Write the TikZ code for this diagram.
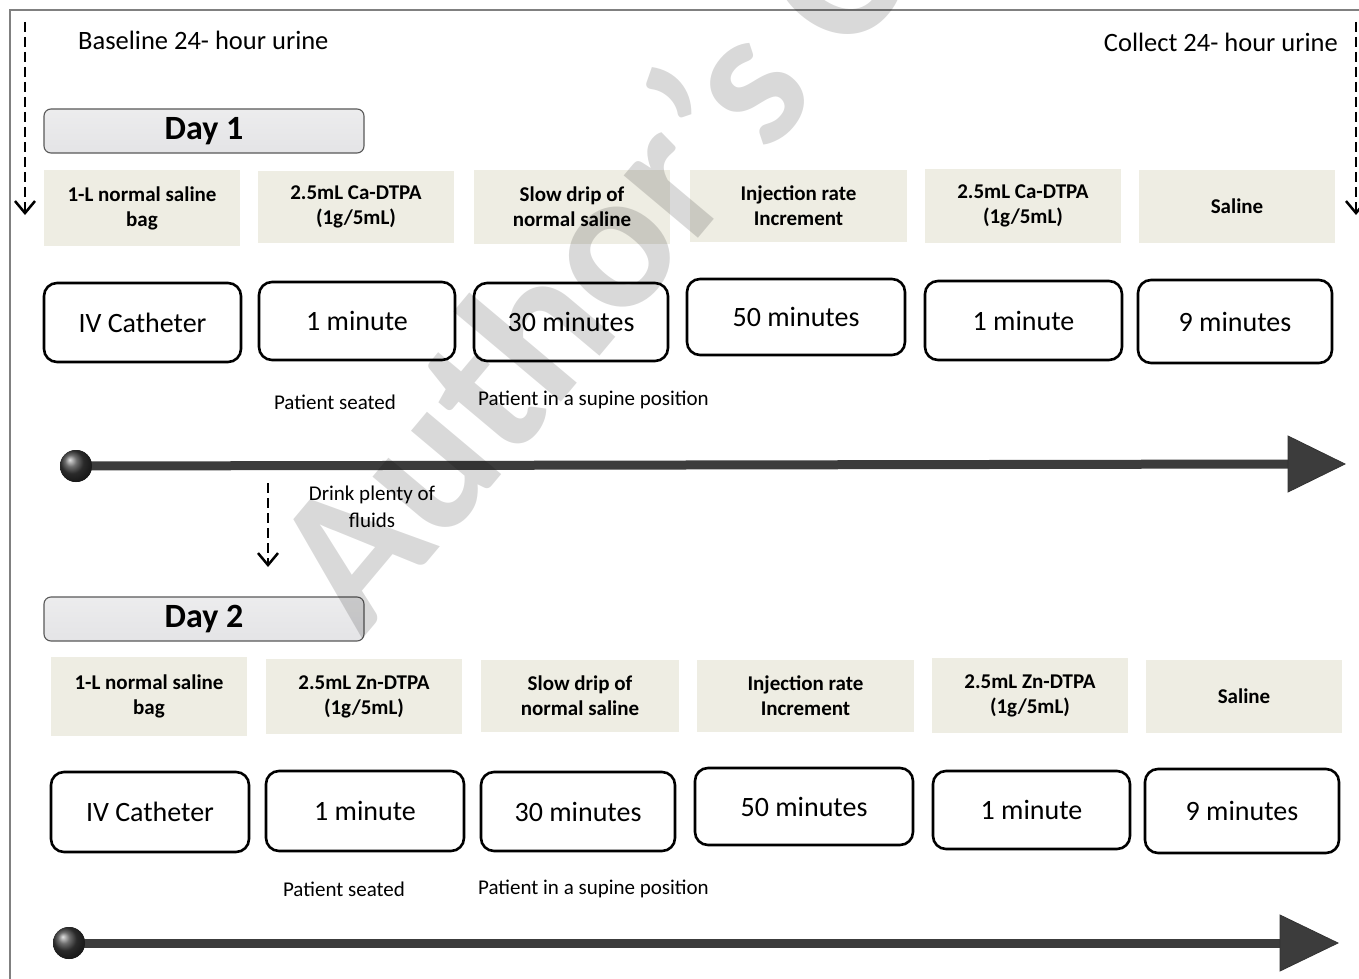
\documentclass[tikz,border=0pt]{standalone}
\usepackage{fontspec}
\setmainfont{Carlito}
\usetikzlibrary{arrows.meta,shadings}
\definecolor{beige}{HTML}{EEEDE3}
\definecolor{daygray}{HTML}{E4E4E6}
\definecolor{tl}{HTML}{3C3C3C}
\begin{document}
\begin{tikzpicture}[x=1pt,y=-1pt,
  beigebox/.style={rectangle,fill=beige,inner sep=0pt,align=center,
    font=\fontsize{21}{25}\selectfont\bfseries},
  timebox/.style={rectangle,rounded corners=13pt,draw=black,line width=2.6pt,
    fill=white,inner sep=0pt,font=\fontsize{28}{32}\selectfont},
  daybox/.style={rectangle,rounded corners=7pt,draw=black!65,line width=1.1pt,
    top color=daygray!70!white,bottom color=daygray,inner sep=0pt,
    minimum width=320pt,minimum height=44pt,
    font=\fontsize{34}{38}\selectfont\bfseries},
  plain/.style={inner sep=0pt,font=\fontsize{21}{27}\selectfont,align=center},
  toptext/.style={inner sep=0pt,font=\fontsize{26.5}{30}\selectfont},
  ballnode/.style={circle,shading=ball,ball color=tl,minimum size=32pt,inner sep=0pt},
  tline/.style={line width=9pt,draw=tl},
  tiptri/.style={fill=tl,draw=black!80,line width=0.8pt},
  dasharrow/.style={line width=2.5pt,dash pattern=on 10pt off 5pt,
    -{Straight Barb[length=12pt,width=20pt,line width=2.5pt]}}
]
\useasboundingbox (0,0) rectangle (1359,979);
\fill[white] (0,0) rectangle (1359,979);
% frame
\draw[black!50,line width=1.5pt] (1359,10) -- (10,10) -- (10,979);

% top texts
\node[toptext,anchor=west] (base) at (78,40) {Baseline 24- hour urine};
\node[toptext,anchor=east] (coll) at (1338,42) {Collect 24- hour urine};
\coordinate (ls) at (25,22);
\coordinate (le) at (25,215);
\coordinate (rs) at (1356,22);
\coordinate (re) at (1356,215);
\draw[dasharrow] (ls) -- (le);
\draw[dasharrow] (rs) -- (re);

% Day 1
\node[daybox] (day1) at (204,131) {\raisebox{3pt}{Day 1}};
\node[beigebox,minimum width=196pt,minimum height=76pt] (a1) at (142,208) {1-L normal saline\\bag};
\node[beigebox,minimum width=196pt,minimum height=72pt] (a2) at (356,207) {2.5mL Ca-DTPA\\(1g/5mL)};
\node[beigebox,minimum width=196pt,minimum height=74pt] (a3) at (572,207) {Slow drip of\\normal saline};
\node[beigebox,minimum width=217pt,minimum height=72pt] (a4) at (798.5,206) {Injection rate\\Increment};
\node[beigebox,minimum width=196pt,minimum height=74pt] (a5) at (1023,206) {2.5mL Ca-DTPA\\(1g/5mL)};
\node[beigebox,minimum width=196pt,minimum height=73pt] (a6) at (1237,206.5) {Saline};

\node[timebox,minimum width=197pt,minimum height=79pt] (b1) at (142.5,322.5) {IV Catheter};
\node[timebox,minimum width=196pt,minimum height=78pt] (b2) at (357,321) {1 minute};
\node[timebox,minimum width=194pt,minimum height=78pt] (b3) at (571,322) {30 minutes};
\node[timebox,minimum width=218pt,minimum height=76pt] (b4) at (796,317) {50 minutes};
\node[timebox,minimum width=197pt,minimum height=79pt] (b5) at (1023.5,320.5) {1 minute};
\node[timebox,minimum width=194pt,minimum height=83pt] (b6) at (1235,321.5) {9 minutes};

\node[plain] (ps1) at (335,402) {Patient seated};
\node[plain] (pp1) at (593.5,400) {Patient in a supine position};

% timeline 1
\node[ballnode] (ball1) at (76,466) {};
\coordinate (t1e) at (1290,464);
\draw[tline] (ball1.center) -- (t1e);
\node[ballnode] at (76,466) {};
\filldraw[tiptri] (1288,436) -- (1345,464) -- (1288,492) -- cycle;

% between days
\coordinate (ms) at (268,483);
\coordinate (me) at (268,567);
\draw[dasharrow] (ms) -- (me);
\node[plain] (drink) at (372,507) {Drink plenty of\\fluids};

% Day 2
\node[daybox] (day2) at (204,619) {\raisebox{3pt}{Day 2}};
\node[beigebox,minimum width=196pt,minimum height=79pt] (c1) at (149,696.5) {1-L normal saline\\bag};
\node[beigebox,minimum width=196pt,minimum height=75pt] (c2) at (364,696.5) {2.5mL Zn-DTPA\\(1g/5mL)};
\node[beigebox,minimum width=198pt,minimum height=72pt] (c3) at (580,696) {Slow drip of\\normal saline};
\node[beigebox,minimum width=217pt,minimum height=72pt] (c4) at (805.5,696) {Injection rate\\Increment};
\node[beigebox,minimum width=196pt,minimum height=75pt] (c5) at (1030,695.5) {2.5mL Zn-DTPA\\(1g/5mL)};
\node[beigebox,minimum width=196pt,minimum height=73pt] (c6) at (1244,696.5) {Saline};

\node[timebox,minimum width=198pt,minimum height=80pt] (d1) at (150,812) {IV Catheter};
\node[timebox,minimum width=198pt,minimum height=80pt] (d2) at (365,811) {1 minute};
\node[timebox,minimum width=194pt,minimum height=79pt] (d3) at (578,811.5) {30 minutes};
\node[timebox,minimum width=218pt,minimum height=77pt] (d4) at (804,806.5) {50 minutes};
\node[timebox,minimum width=197pt,minimum height=78pt] (d5) at (1031.5,810) {1 minute};
\node[timebox,minimum width=194pt,minimum height=84pt] (d6) at (1242,811) {9 minutes};

\node[plain] (ps2) at (344,889) {Patient seated};
\node[plain] (pp2) at (593.5,889) {Patient in a supine position};

% timeline 2
\node[ballnode] (ball2) at (69,943) {};
\coordinate (t2e) at (1282,943);
\draw[tline] (ball2.center) -- (t2e);
\node[ballnode] at (69,943) {};
\filldraw[tiptri] (1280,915) -- (1338,943) -- (1280,971) -- cycle;

% watermark
\begin{scope}
\clip (0,0) rectangle (1359,979);
\node[anchor=base west,inner sep=0pt,rotate=50,text=black,text opacity=0.15,
  font=\fontsize{200}{205}\selectfont\bfseries] (wm) at (362,640) {Author's C};
\end{scope}
\end{tikzpicture}
\end{document}
